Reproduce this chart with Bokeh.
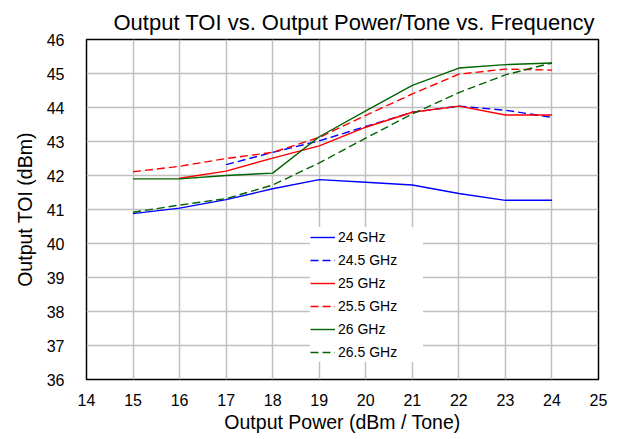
from bokeh.plotting import figure
from bokeh.models import Legend, LegendItem, FixedTicker, Range1d
from bokeh.embed import file_html
from bokeh.resources import INLINE

x_vals = [15, 16, 17, 18, 19, 20, 21, 22, 23, 24]
toi_24 = [40.88, 41.04, 41.29, 41.61, 41.88, 41.80, 41.72, 41.47, 41.27, 41.27]
x_245 = [17, 18, 19, 20, 21, 22, 23, 24]
toi_245 = [42.32, 42.68, 43.02, 43.44, 43.86, 44.04, 43.92, 43.71]
x_25 = [16, 17, 18, 19, 20, 21, 22, 23, 24]
toi_25 = [41.92, 42.13, 42.51, 42.87, 43.42, 43.86, 44.04, 43.78, 43.78]
toi_255 = [42.11, 42.27, 42.50, 42.68, 43.12, 43.77, 44.40, 44.98, 45.13, 45.10]
toi_26 = [41.90, 41.90, 42.00, 42.07, 43.14, 43.90, 44.65, 45.16, 45.26, 45.31]
toi_265 = [40.92, 41.13, 41.32, 41.72, 42.37, 43.10, 43.81, 44.44, 44.96, 45.31]

x_ticks = list(range(14, 26))
y_ticks = list(range(36, 47))

FONT = "Liberation Sans"

p = figure(width=634, height=439, output_backend="svg", toolbar_location=None,
           x_range=Range1d(14, 25), y_range=Range1d(36, 46),
           title="Output TOI vs. Output Power/Tone vs. Frequency",
           min_border_left=86, min_border_right=36, min_border_top=39, min_border_bottom=60)

p.title.text_font = FONT
p.title.text_font_size = "22px"
p.title.text_font_style = "normal"
p.title.align = "left"
p.title.offset = 27
p.title.text_color = "black"
p.title.standoff = 9

p.outline_line_color = "black"
p.outline_line_width = 1.5
p.outline_line_alpha = 1

for ax in (p.xaxis[0], p.yaxis[0]):
    ax.axis_line_color = None
    ax.major_tick_line_color = None
    ax.minor_tick_line_color = None
    ax.major_label_text_font = FONT
    ax.major_label_text_font_size = "16px"
    ax.major_label_text_color = "black"
    ax.axis_label_text_font = FONT
    ax.axis_label_text_font_size = "19.5px"
    ax.axis_label_text_font_style = "normal"
    ax.axis_label_text_color = "black"

p.xaxis.ticker = FixedTicker(ticks=x_ticks)
p.yaxis.ticker = FixedTicker(ticks=y_ticks)
p.xaxis.axis_label = "Output Power (dBm / Tone)"
p.yaxis.axis_label = "Output TOI (dBm)"
p.xaxis.major_label_standoff = 8
p.yaxis.major_label_standoff = 16
p.xaxis.axis_label_standoff = 2
p.yaxis.axis_label_standoff = 8

p.grid.grid_line_color = "#c0c0c0"
p.grid.grid_line_width = 1.5

lw = 1.4
dash = "8 4"
r1 = p.line(x_vals, toi_24, color="#0000ff", line_width=lw)
r2 = p.line(x_245, toi_245, color="#0000ff", line_width=lw, line_dash=dash)
r3 = p.line(x_25, toi_25, color="#ff0000", line_width=lw)
r4 = p.line(x_vals, toi_255, color="#ff0000", line_width=lw, line_dash=dash)
r5 = p.line(x_vals, toi_26, color="#006400", line_width=lw)
r6 = p.line(x_vals, toi_265, color="#006400", line_width=lw, line_dash=dash)

labels = ["24 GHz", "24.5 GHz", "25 GHz", "25.5 GHz", "26 GHz", "26.5 GHz"]
legend = Legend(items=[LegendItem(label=l, renderers=[r]) for l, r in
                       zip(labels, [r1, r2, r3, r4, r5, r6])],
                location=(224, 17), orientation="vertical")
legend.background_fill_color = "white"
legend.background_fill_alpha = 1
legend.border_line_color = None
legend.padding = 2
legend.margin = 0
legend.spacing = 3
legend.glyph_width = 25
legend.glyph_height = 20
legend.label_height = 20
legend.label_width = 85
legend.label_standoff = 3
legend.label_text_font = FONT
legend.label_text_font_size = "14px"
legend.label_text_color = "black"
p.add_layout(legend, "center")

open("out.html", "w").write(file_html(p, INLINE))
